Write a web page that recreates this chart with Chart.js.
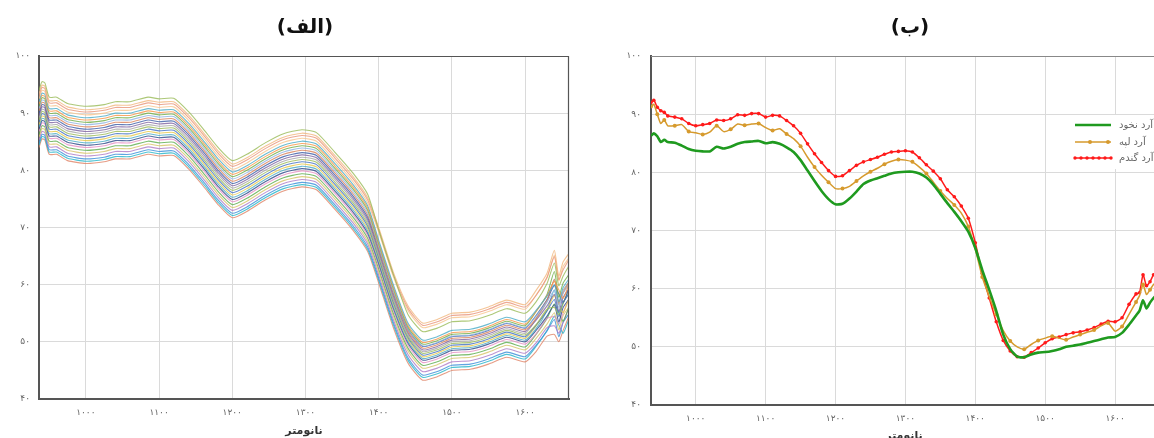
<!DOCTYPE html>
<html><head><meta charset="utf-8">
<script src="https://cdn.jsdelivr.net/npm/chart.js@4.4.1/dist/chart.umd.min.js"></script>
<style>
html,body{margin:0;padding:0;background:#fff;overflow:hidden;width:1154px;height:438px;}
#c1{position:absolute;left:0;top:0;}
#c2{position:absolute;left:600px;top:0;}
</style></head><body>
<canvas id="c1" width="580" height="438"></canvas>
<canvas id="c2" width="580" height="438"></canvas>
<script>
// ---------- Chart A (الف): spectra of many samples ----------
const wavelengthsA = [936,940,944,950,960,975,1000,1025,1040,1060,1085,1100,1120,1140,1160,1180,1200,1220,1245,1270,1295,1315,1340,1365,1385,1400,1420,1440,1460,1480,1500,1525,1550,1575,1600,1615,1630,1640,1646,1652,1660];
const spectrum01 = [94.0,95.5,95.3,92.8,92.8,91.7,91.2,91.5,92.0,92.0,92.8,92.5,92.6,90.3,87.3,84.1,81.7,82.8,84.8,86.4,87.1,86.6,83.2,79.5,75.8,69.6,61.8,54.8,51.8,52.4,53.5,53.7,54.6,55.8,55.0,57.0,60.2,63.8,59.8,61.5,63.3];
const spectrum02 = [93.4,94.9,94.7,92.2,92.2,91.1,90.6,90.9,91.4,91.4,92.2,91.9,92.0,89.7,86.7,83.5,81.1,82.2,84.2,85.8,86.5,86.0,82.6,78.9,75.2,70.0,62.2,56.3,53.3,53.9,55.0,55.2,56.1,57.3,56.5,59.0,62.0,66.0,61.5,64.0,65.5];
const spectrum03 = [93.0,94.5,94.3,91.8,91.8,90.7,90.2,90.5,91.0,91.0,91.8,91.5,91.6,89.3,86.3,83.1,80.7,81.8,83.8,85.4,86.1,85.6,82.2,78.5,74.8,69.6,61.8,55.9,52.9,53.5,54.6,54.8,55.7,56.9,56.1,58.1,61.3,64.9,60.9,62.6,64.4];
const spectrum04 = [92.5,94.0,93.8,91.3,91.3,90.2,89.7,90.0,90.5,90.5,91.3,91.0,91.1,88.8,85.8,82.6,80.2,81.3,83.3,84.9,85.6,85.1,81.7,78.0,74.3,69.2,61.4,55.5,52.5,53.1,54.2,54.4,55.3,56.5,55.7,58.2,61.2,65.2,60.7,63.2,64.7];
const spectrum05 = [92.0,93.5,93.3,90.8,90.8,89.7,89.2,89.5,90.0,90.0,90.8,90.5,90.6,88.3,85.3,82.1,79.7,80.8,82.8,84.4,85.1,84.6,81.2,77.5,73.8,67.8,60.0,53.3,50.3,50.9,52.0,52.2,53.1,54.3,53.5,55.5,58.0,60.0,57.0,59.5,61.0];
const spectrum06 = [91.6,93.1,92.9,90.4,90.4,89.3,88.8,89.1,89.6,89.6,90.4,90.1,90.2,87.9,84.9,81.7,79.3,80.4,82.4,84.0,84.7,84.2,80.8,77.1,73.4,67.4,59.6,52.9,49.9,50.5,51.6,51.8,52.7,53.9,53.1,55.3,58.1,60.6,59.1,57.6,60.1];
const spectrum07 = [91.2,92.7,92.5,90.0,90.0,88.9,88.4,88.7,89.2,89.2,90.0,89.7,89.8,87.5,84.5,81.3,78.9,80.0,82.0,83.6,84.3,83.8,80.4,76.7,73.0,67.1,59.3,52.6,49.6,50.2,51.3,51.5,52.4,53.6,52.8,55.3,58.3,62.3,57.8,60.3,61.8];
const spectrum08 = [90.8,92.3,92.1,89.6,89.6,88.5,88.0,88.3,88.8,88.8,89.6,89.3,89.4,87.1,84.1,80.9,78.5,79.6,81.6,83.2,83.9,83.4,80.0,76.3,72.6,66.7,58.9,52.3,49.3,49.9,51.0,51.2,52.1,53.3,52.5,54.5,57.0,59.0,56.0,58.5,60.0];
const spectrum09 = [90.4,91.9,91.7,89.2,89.2,88.1,87.6,87.9,88.4,88.4,89.2,88.9,89.0,86.7,83.7,80.5,78.1,79.2,81.2,82.8,83.5,83.0,79.6,75.9,72.2,66.3,58.5,51.9,48.9,49.5,50.6,50.8,51.7,52.9,52.1,54.1,57.3,60.9,56.9,58.6,60.4];
const spectrum10 = [90.0,91.5,91.3,88.8,88.8,87.7,87.2,87.5,88.0,88.0,88.8,88.5,88.6,86.3,83.3,80.1,77.7,78.8,80.8,82.4,83.1,82.6,79.2,75.5,71.8,66.3,58.5,52.2,49.2,49.8,50.9,51.1,52.0,53.2,52.4,54.6,57.4,59.9,58.4,56.9,59.4];
const spectrum11 = [89.6,91.1,90.9,88.4,88.4,87.3,86.8,87.1,87.6,87.6,88.4,88.1,88.2,85.9,82.9,79.7,77.3,78.4,80.4,82.0,82.7,82.2,78.8,75.1,71.4,65.8,58.0,51.6,48.6,49.2,50.3,50.5,51.4,52.6,51.8,53.8,56.3,58.3,55.3,57.8,59.3];
const spectrum12 = [89.2,90.7,90.5,88.0,88.0,86.9,86.4,86.7,87.2,87.2,88.0,87.7,87.8,85.5,82.5,79.3,76.9,78.0,80.0,81.6,82.3,81.8,78.4,74.7,71.0,65.4,57.6,51.3,48.3,48.9,50.0,50.2,51.1,52.3,51.5,54.0,57.0,61.0,56.5,59.0,60.5];
const spectrum13 = [88.8,90.3,90.1,87.6,87.6,86.5,86.0,86.3,86.8,86.8,87.6,87.3,87.4,85.1,82.1,78.9,76.5,77.6,79.6,81.2,81.9,81.4,78.0,74.3,70.6,65.1,57.3,51.0,48.0,48.6,49.7,49.9,50.8,52.0,51.2,53.0,55.7,56.0,54.7,56.7,59.2];
const spectrum14 = [88.4,89.9,89.7,87.2,87.2,86.1,85.6,85.9,86.4,86.4,87.2,86.9,87.0,84.7,81.7,78.5,76.1,77.2,79.2,80.8,81.5,81.0,77.6,73.9,70.2,64.7,56.9,50.7,47.7,48.3,49.4,49.6,50.5,51.7,50.9,52.9,55.4,57.4,54.4,56.9,58.4];
const spectrum15 = [88.0,89.5,89.3,86.8,86.8,85.7,85.2,85.5,86.0,86.0,86.8,86.5,86.6,84.3,81.3,78.1,75.7,76.8,78.8,80.4,81.1,80.6,77.2,73.5,69.8,64.4,56.6,50.4,47.4,48.0,49.1,49.3,50.2,51.4,50.6,52.8,55.6,58.1,56.6,55.1,57.6];
const spectrum16 = [87.6,89.1,88.9,86.4,86.4,85.3,84.8,85.1,85.6,85.6,86.4,86.1,86.2,83.9,80.9,77.7,75.3,76.4,78.4,80.0,80.7,80.2,76.8,73.1,69.4,64.0,56.2,50.1,47.1,47.7,48.8,49.0,49.9,51.1,50.3,52.3,55.5,59.1,55.1,56.8,58.6];
const spectrum17 = [87.2,88.7,88.5,86.0,86.0,84.9,84.4,84.7,85.2,85.2,86.0,85.7,85.8,83.5,80.5,77.3,74.9,76.0,78.0,79.6,80.3,79.8,76.4,72.7,69.0,63.7,55.9,49.8,46.8,47.4,48.5,48.7,49.6,50.8,50.0,52.0,54.5,56.5,53.5,56.0,57.5];
const spectrum18 = [86.8,88.3,88.1,85.6,85.6,84.5,84.0,84.3,84.8,84.8,85.6,85.3,85.4,83.1,80.1,76.9,74.5,75.6,77.6,79.2,79.9,79.4,76.0,72.3,68.6,63.3,55.5,49.4,46.4,47.0,48.1,48.3,49.2,50.4,49.6,51.4,54.1,54.4,53.1,55.1,57.6];
const spectrum19 = [86.3,87.8,87.6,85.1,85.1,84.0,83.5,83.8,84.3,84.3,85.1,84.8,84.9,82.6,79.6,76.4,74.0,75.1,77.1,78.7,79.4,78.9,75.5,71.8,68.1,62.8,55.0,48.9,45.9,46.5,47.6,47.8,48.7,49.9,49.1,51.3,54.1,56.6,55.1,53.6,56.1];
const spectrum20 = [85.8,87.3,87.1,84.6,84.6,83.5,83.0,83.3,83.8,83.8,84.6,84.3,84.4,82.1,79.1,75.9,73.5,74.6,76.6,78.2,78.9,78.4,75.0,71.3,67.6,62.3,54.5,48.4,45.4,46.0,47.1,47.3,48.2,49.4,48.6,50.6,53.1,55.1,52.1,54.6,56.1];
const spectrum21 = [85.3,86.8,86.6,84.1,84.1,83.0,82.5,82.8,83.3,83.3,84.1,83.8,83.9,81.6,78.6,75.4,73.0,74.1,76.1,77.7,78.4,77.9,74.5,70.8,67.1,61.7,53.9,47.8,44.8,45.4,46.5,46.7,47.6,48.8,48.0,49.8,52.5,52.8,51.5,53.5,56.0];
const spectrum22 = [84.8,86.3,86.1,83.6,83.6,82.5,82.0,82.3,82.8,82.8,83.6,83.3,83.4,81.1,78.1,74.9,72.5,73.6,75.6,77.2,77.9,77.4,74.0,70.3,66.6,61.2,53.4,47.2,44.2,44.8,45.9,46.1,47.0,48.2,47.4,49.4,51.9,53.9,50.9,53.4,54.9];
const spectrum23 = [84.4,85.9,85.7,83.2,83.2,82.1,81.6,81.9,82.4,82.4,83.2,82.9,83.0,80.7,77.7,74.5,72.1,73.2,75.2,76.8,77.5,77.0,73.6,69.9,66.2,60.8,53.0,46.8,43.8,44.4,45.5,45.7,46.6,47.8,47.0,49.2,52.0,54.5,53.0,51.5,54.0];
const spectrum24 = [84.0,85.5,85.3,82.8,82.8,81.7,81.2,81.5,82.0,82.0,82.8,82.5,82.6,80.3,77.3,74.1,71.7,72.8,74.8,76.4,77.1,76.6,73.2,69.5,65.8,60.3,52.5,46.3,43.3,43.9,45.0,45.2,46.1,47.3,46.5,48.3,51.0,51.3,50.0,52.0,54.5];
const spectraA = [spectrum01,spectrum02,spectrum03,spectrum04,spectrum05,spectrum06,spectrum07,spectrum08,spectrum09,spectrum10,spectrum11,spectrum12,spectrum13,spectrum14,spectrum15,spectrum16,spectrum17,spectrum18,spectrum19,spectrum20,spectrum21,spectrum22,spectrum23,spectrum24];
const lineColorsA = ['#9bbb59','#f2b880','#e9967a','#f7c58f','#4bacc6','#f79646','#70ad47','#8fb4e3','#d9825b','#3f5fa8','#8064a2','#a5a5a5','#9bbb59','#4472c4','#e6c84a','#4bacc6','#2f4a8a','#e58fc4','#5fae4f','#d8c46a','#b07cc6','#3b8fd9','#26b5c9','#e0866a'];

// ---------- Chart B (ب): three flours ----------
const wavelengthsB = [936,940,945,950,955,960,970,980,990,1000,1010,1020,1030,1040,1050,1060,1070,1080,1090,1100,1110,1120,1130,1140,1150,1160,1170,1180,1190,1200,1210,1220,1230,1240,1250,1260,1270,1280,1290,1300,1310,1320,1330,1340,1350,1360,1370,1380,1390,1400,1410,1420,1430,1440,1450,1460,1470,1480,1490,1500,1510,1520,1530,1540,1550,1560,1570,1580,1590,1600,1610,1620,1630,1635,1640,1645,1650,1655,1660];
const chickpeaFlour = [86.3,86.7,86.2,85.2,85.6,85.2,85.1,84.6,84.0,83.7,83.6,83.6,84.4,84.1,84.4,84.9,85.2,85.3,85.4,85.0,85.2,84.9,84.3,83.5,82.1,80.3,78.5,76.8,75.4,74.5,74.6,75.5,76.7,78.0,78.6,79.0,79.4,79.8,80.0,80.1,80.1,79.8,79.1,77.9,76.3,74.7,73.2,71.6,69.8,67.0,63.2,59.8,56.2,52.1,49.6,48.3,48.2,48.7,49.0,49.1,49.3,49.6,50.0,50.2,50.4,50.7,51.0,51.3,51.6,51.7,52.4,53.8,55.4,56.2,58.0,56.6,57.6,58.4,59.0];
const splitPeaFlour = [91.3,91.7,90.0,88.4,89.0,88.0,88.0,88.2,87.0,86.8,86.5,86.9,88.0,87.0,87.4,88.3,88.1,88.3,88.4,87.7,87.2,87.5,86.6,85.8,84.5,82.6,80.9,79.5,78.3,77.2,77.2,77.6,78.5,79.4,80.1,80.7,81.4,81.9,82.2,82.1,81.8,80.9,79.8,78.3,76.8,75.5,74.4,73.0,70.7,66.8,62.0,58.6,55.6,52.8,51.0,50.0,49.6,50.4,51.1,51.5,51.8,51.5,51.2,51.7,52.1,52.5,52.9,53.6,54.1,52.7,53.5,55.6,57.7,58.8,60.7,59.0,59.8,60.7,61.2];
const wheatFlour = [92.0,92.4,91.2,90.6,90.3,89.7,89.5,89.2,88.4,88.0,88.2,88.4,89.0,88.9,89.2,89.9,89.8,90.1,90.1,89.5,89.8,89.7,88.9,88.0,86.7,84.9,83.2,81.7,80.3,79.3,79.4,80.3,81.2,81.8,82.2,82.6,83.1,83.5,83.6,83.7,83.5,82.5,81.3,80.2,78.9,77.0,75.8,74.2,72.1,67.9,62.6,58.4,54.3,51.1,49.3,48.3,48.2,49.0,49.8,50.7,51.4,51.7,52.1,52.4,52.6,52.9,53.3,53.9,54.4,54.3,55.0,57.3,59.1,59.3,62.4,60.5,61.2,62.4,63.0];
const seriesNamesB = ['آرد نخود','آرد لپه','آرد گندم'];
const seriesColorsB = ['#1f9a1f','#d69a2d','#ff1a1a'];

// ---------- shared ticks and texts ----------
const xTickValues = [1000,1100,1200,1300,1400,1500,1600];
const xTickLabels = ['۱۰۰۰','۱۱۰۰','۱۲۰۰','۱۳۰۰','۱۴۰۰','۱۵۰۰','۱۶۰۰'];
const yTickValues = [40,50,60,70,80,90,100];
const yTickLabels = ['۴۰','۵۰','۶۰','۷۰','۸۰','۹۰','۱۰۰'];
const titleA = '(الف)';
const titleB = '(ب)';
const axisTitleA = 'نانومتر';
const axisTitleB = 'نانومتر';

const FONT = '"DejaVu Sans", sans-serif';

function makeScales(yW, xH, xPad, yPad) {
  return {
    x: {
      type: 'linear', min: 936, max: 1660,
      afterBuildTicks: a => { a.ticks = xTickValues.map(v => ({value: v})); },
      afterFit: s => { s.height = xH; },
      grid: { color: '#dadada', lineWidth: 1, drawTicks: false },
      border: { color: '#555', width: 2 },
      ticks: { padding: xPad, color: '#666', font: { family: FONT, size: 9 }, maxRotation: 0, autoSkip: false,
        callback: v => { const i = xTickValues.indexOf(v); return i >= 0 ? xTickLabels[i] : ''; } }
    },
    y: {
      type: 'linear', min: 40, max: 100,
      afterBuildTicks: a => { a.ticks = yTickValues.map(v => ({value: v})); },
      afterFit: s => { s.width = yW; },
      grid: { color: '#dadada', lineWidth: 1, drawTicks: false },
      border: { color: '#555', width: 2 },
      ticks: { padding: yPad, color: '#666', font: { family: FONT, size: 9 }, autoSkip: false,
        callback: v => { const i = yTickValues.indexOf(v); return i >= 0 ? yTickLabels[i] : ''; } }
    }
  };
}

function textPlugin(id, title, titleX, axisTitle, axisY, frameColor) {
  return {
    id: id,
    afterDraw(chart) {
      const ctx = chart.ctx, a = chart.chartArea;
      ctx.save();
      ctx.strokeStyle = frameColor; ctx.lineWidth = 1.2;
      ctx.beginPath();
      ctx.moveTo(a.left, a.top + 0.5);
      ctx.lineTo(a.right - 0.5, a.top + 0.5);
      ctx.lineTo(a.right - 0.5, a.bottom);
      ctx.stroke();
      ctx.textAlign = 'center'; ctx.textBaseline = 'middle';
      ctx.fillStyle = '#111';
      ctx.font = 'bold 20px ' + FONT;
      ctx.fillText(title, titleX, 28);
      ctx.fillStyle = '#333';
      ctx.font = 'bold 11px ' + FONT;
      ctx.fillText(axisTitle, (a.left + a.right) / 2, axisY);
      ctx.restore();
    }
  };
}

const legendPluginB = {
  id: 'legendB',
  afterDraw(chart) {
    const ctx = chart.ctx;
    ctx.save();
    ctx.fillStyle = '#fff';
    ctx.fillRect(466, 115, 100, 54);
    const ys = [125, 142, 158];
    const x0 = 475, x1 = 511;
    ys.forEach((y, i) => {
      ctx.strokeStyle = seriesColorsB[i];
      ctx.fillStyle = seriesColorsB[i];
      ctx.lineWidth = i === 0 ? 2.6 : 1.5;
      ctx.beginPath(); ctx.moveTo(x0, y); ctx.lineTo(x1, y); ctx.stroke();
      if (i === 1) {
        [490, 508].forEach(x => { ctx.beginPath(); ctx.arc(x, y, 2, 0, Math.PI * 2); ctx.fill(); });
      } else if (i === 2) {
        for (let x = x0; x <= x1; x += 6) { ctx.beginPath(); ctx.arc(x, y, 1.7, 0, Math.PI * 2); ctx.fill(); }
      }
      ctx.fillStyle = '#666';
      ctx.font = '10px ' + FONT;
      ctx.textAlign = 'left'; ctx.textBaseline = 'middle';
      ctx.fillText(seriesNamesB[i], 519, y);
    });
    ctx.restore();
  }
};

const commonOpts = {
  responsive: false, animation: false, events: [],
  devicePixelRatio: 1,
  plugins: { legend: { display: false }, tooltip: { enabled: false }, title: { display: false } }
};

new Chart(document.getElementById('c1'), {
  type: 'line',
  data: {
    datasets: spectraA.map((vals, i) => ({
      data: wavelengthsA.map((w, k) => ({x: w, y: vals[k]})),
      borderColor: lineColorsA[i] + 'd0',
      borderWidth: 1.1,
      pointRadius: 0,
      tension: 0.2,
      fill: false
    }))
  },
  options: Object.assign({}, commonOpts, {
    layout: { padding: { left: 0, right: 11, top: 56, bottom: 0 } },
    scales: makeScales(39, 39, 8, 9)
  }),
  plugins: [textPlugin('txtA', titleA, 305, axisTitleA, 431, '#555')]
});

const seriesB = [chickpeaFlour, splitPeaFlour, wheatFlour];
new Chart(document.getElementById('c2'), {
  type: 'line',
  data: {
    datasets: seriesB.map((vals, i) => ({
      label: seriesNamesB[i],
      data: wavelengthsB.map((w, k) => ({x: w, y: vals[k]})),
      borderColor: seriesColorsB[i],
      backgroundColor: seriesColorsB[i],
      borderWidth: i === 0 ? 2.6 : 1.5,
      pointRadius: i === 0 ? 0 : (i === 1 ? (c => (c.dataIndex % 2 === 0 ? 2 : 0)) : 1.8),
      pointBorderWidth: 0,
      tension: 0.2,
      fill: false
    }))
  },
  options: Object.assign({}, commonOpts, {
    layout: { padding: { left: 0, right: 23, top: 56, bottom: 0 } },
    scales: makeScales(51, 33, 8, 10)
  }),
  plugins: [textPlugin('txtB', titleB, 310, axisTitleB, 436, '#888'), legendPluginB]
});
</script>
</body></html>
